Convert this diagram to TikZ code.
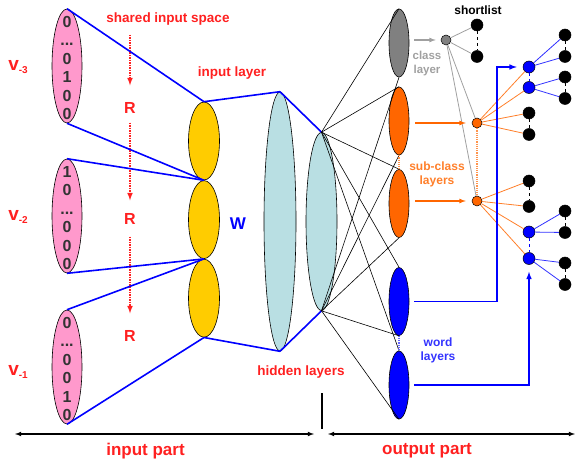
\documentclass[tikz,border=0pt]{standalone}
\usepackage{fontspec}
\setmainfont{Liberation Sans}
\usetikzlibrary{shapes.geometric, positioning}

\definecolor{vecpink}{HTML}{FF99CC}
\definecolor{projyellow}{HTML}{FFCC00}
\definecolor{hidblue}{HTML}{B9DFE3}
\definecolor{classgrey}{HTML}{808080}
\definecolor{classtext}{HTML}{A0A0A0}
\definecolor{suborange}{HTML}{FF6600}
\definecolor{subtext}{HTML}{FF7F2A}
\definecolor{wordblue}{HTML}{0000FF}
\definecolor{wordtext}{HTML}{3333FF}
\definecolor{labred}{HTML}{FF2020}
\definecolor{bitgrey}{HTML}{333333}

\tikzset{
  inputvec/.style={ellipse, draw=black, line width=0.6pt, fill=vecpink, minimum width=30pt, minimum height=114pt, inner sep=0pt},
  projlayer/.style={ellipse, draw=black, line width=0.6pt, fill=projyellow, minimum width=31pt, minimum height=78pt, inner sep=0pt},
  hidlayer/.style={ellipse, draw=black, line width=0.6pt, fill=hidblue, inner sep=0pt},
  outlayer/.style={ellipse, draw=black, line width=0.6pt, minimum width=20pt, minimum height=68pt, inner sep=0pt},
  tree/.style={circle, draw=black, line width=0.5pt, inner sep=0pt, minimum size=12pt},
  leaf/.style={tree, fill=black},
  bits/.style={font=\bfseries\fontsize{16}{18.4}\selectfont, text=bitgrey, align=center},
  lbl/.style={font=\bfseries\fontsize{13.5}{16}\selectfont, text=labred, align=center, inner sep=0pt},
  small/.style={font=\bfseries\fontsize{12}{14}\selectfont, align=center, inner sep=0pt},
  partlbl/.style={font=\bfseries\fontsize{17}{20}\selectfont, text=labred, inner sep=0pt},
  proj/.style={draw=wordblue, line width=1.6pt},
  conn/.style={draw=black, line width=0.6pt},
  rarrow/.style={draw=labred, densely dotted, line width=1.5pt, -latex},
  axis/.style={draw=black, line width=1.1pt, latex-latex},
}

\newcommand{\vlabel}[1]{{\fontsize{19}{19}\selectfont v}\raisebox{-3pt}{\fontsize{10}{10}\selectfont #1}}

\begin{document}
\begin{tikzpicture}[x=1pt, y=-1pt]
\useasboundingbox (0,0) rectangle (575,462);

% input vectors
\node[inputvec] (p3) at (67,66) {};
\node[inputvec] (p2) at (67,216) {};
\node[inputvec] (p1) at (67,367) {};
\node[bits] (d3) [yshift=-2pt] at (p3) {0\\...\\0\\1\\0\\0};
\node[bits] (d2) [yshift=-2pt] at (p2) {1\\0\\...\\0\\0\\0};
\node[bits] (d1) [yshift=-2pt] at (p1) {0\\...\\0\\0\\1\\0};

\node[lbl] (v3) at (18,67) {\vlabel{-3}};
\node[lbl] (v2) at (18,217) {\vlabel{-2}};
\node[lbl] (v1) at (18,372) {\vlabel{-1}};

% shared projection
\node[lbl] (shared) at (168,19) {shared input space};
\node[lbl, font=\bfseries\fontsize{16}{16}\selectfont] (r1) at (130,108) {R};
\node[lbl, font=\bfseries\fontsize{16}{16}\selectfont] (r2) at (130,219) {R};
\node[lbl, font=\bfseries\fontsize{16}{16}\selectfont] (r3) at (130,336) {R};
\coordinate (rtop) at (130,35);
\draw[rarrow, shorten >=17pt] (rtop) -- (r1);
\draw[rarrow, shorten <=9pt, shorten >=13pt] (r1.south) -- (r2.north);
\draw[rarrow, shorten <=12pt, shorten >=17pt] (r2.south) -- (r3.north);

% input layer
\node[projlayer] (y1) at (204,141) {};
\node[projlayer] (y2) [below=0pt of y1] {};
\node[projlayer] (y3) [below=0pt of y2] {};
\node[lbl] (inlbl) at (232,73) {input layer};
\node[lbl, text=wordblue, font=\bfseries\fontsize{17}{17}\selectfont] (w) at (238,224) {W};

\draw[proj] (p3.north) -- (y1.north);
\draw[proj] (p3.south) -- (y1.south);
\draw[proj] (p2.north) -- (y1.south);
\draw[proj] (p2.south) -- (y3.north);
\draw[proj] (p1.north) -- (y3.north);
\draw[proj] (p1.south) -- (y3.south);

% hidden layers
\node[hidlayer, minimum width=32pt, minimum height=259pt] (h1) at (280,221.5) {};
\node[hidlayer, minimum width=31pt, minimum height=178pt] (h2) at (321.5,221.5) {};
\node[lbl] (hidlbl) at (301,372) {hidden layers};

\draw[proj] (y1.north) -- (h1.north);
\draw[proj] (y3.south) -- (h1.south);
\draw[proj] (h1.north) -- (h2.north);
\draw[proj] (h1.south) -- (h2.south);

% output layers
\node[outlayer, fill=classgrey] (oc) at (399,43) {};
\node[outlayer, fill=suborange] (os1) at (399,121) {};
\node[outlayer, fill=suborange] (os2) at (399,203.5) {};
\node[outlayer, fill=wordblue] (ow1) at (399,301.5) {};
\node[outlayer, fill=wordblue] (ow2) at (399,385) {};

\foreach \o in {oc,os1,os2,ow1,ow2} {
  \draw[conn] (h2.north) -- (\o.north);
  \draw[conn] (h2.south) -- (\o.south);
}
\draw[suborange!70, densely dotted, line width=1.2pt] (os1.south) -- (os2.north);
\draw[wordblue!60, densely dotted, line width=1.2pt] (ow1.south) -- (ow2.north);

\node[small, text=classtext, font=\bfseries\fontsize{11.5}{14}\selectfont] (clbl) at (427,64) {class\\layer};
\node[small, text=subtext] (slbl) at (437,174) {sub-class\\layers};
\node[small, text=wordtext] (wlbl) at (438,350) {word\\layers};
\node[small] (short) at (478,10) {shortlist};

% tree
\node[tree, fill=classgrey, minimum size=10pt] (g) at (446,40) {};
\node[leaf] (s1) at (477,25) {};
\node[leaf] (s2) [below=19pt of s1] {};
\node[tree, fill=suborange, minimum size=10pt] (c1) at (477,123) {};
\node[tree, fill=suborange, minimum size=10pt] (c2) at (477,201) {};

\node[tree, fill=wordblue] (b1) at (529,67) {};
\node[tree, fill=wordblue] (b2) [below=8pt of b1] {};
\node[leaf] (k1) at (529,113) {};
\node[leaf] (k2) [below=9pt of k1] {};
\node[leaf] (k3) at (529,181) {};
\node[leaf] (k4) [below=13pt of k3] {};
\node[tree, fill=wordblue] (b3) at (529,232) {};
\node[tree, fill=wordblue] (b4) [below=14pt of b3] {};

\node[leaf] (l1) at (565,35) {};
\node[leaf] (l2) [below=9pt of l1] {};
\node[leaf] (l3) at (565,77) {};
\node[leaf] (l4) [below=9pt of l3] {};
\node[leaf] (l5) at (565,211) {};
\node[leaf] (l6) [below=9pt of l5] {};
\node[leaf] (l7) at (565,263) {};
\node[leaf] (l8) [below=9pt of l7] {};

\draw[classtext, line width=0.8pt] (g) -- (s1);
\draw[classtext, line width=0.8pt] (g) -- (s2);
\draw[classtext, line width=0.8pt] (g) -- (c1);
\draw[classtext, line width=0.8pt] (g) -- (c2);
\draw[suborange!70, densely dotted, line width=1.2pt] (c1) -- (c2);
\foreach \t in {b1,b2,k1,k2} \draw[subtext, line width=0.8pt] (c1) -- (\t);
\foreach \t in {k3,k4,b3,b4} \draw[subtext, line width=0.8pt] (c2) -- (\t);
\draw[wordtext, line width=0.8pt] (b1) -- (l1);
\draw[wordtext, line width=0.8pt] (b1) -- (l2);
\draw[wordtext, line width=0.8pt] (b2) -- (l3);
\draw[wordtext, line width=0.8pt] (b2) -- (l4);
\draw[wordtext, line width=0.8pt] (b3) -- (l5);
\draw[wordtext, line width=0.8pt] (b3) -- (l6);
\draw[wordtext, line width=0.8pt] (b4) -- (l7);
\draw[wordtext, line width=0.8pt] (b4) -- (l8);
\foreach \a/\b in {s1/s2,k1/k2,k3/k4,l1/l2,l3/l4,l5/l6,l7/l8}
  \draw[black, dashed, line width=0.9pt] (\a) -- (\b);
\draw[wordblue, dashed, line width=0.9pt] (b1) -- (b2);
\draw[wordblue, dashed, line width=0.9pt] (b3) -- (b4);

% arrows into the tree
\draw[classtext, line width=1.2pt, -latex, shorten <=5pt, shorten >=5pt] (oc.east |- g) -- (g.west);
\draw[suborange, line width=1.2pt, -latex, shorten <=6pt, shorten >=6pt] (os1.east |- c1) -- (c1.west);
\draw[suborange, line width=1.2pt, -latex, shorten <=6pt, shorten >=6pt] (os2.east |- c2) -- (c2.west);
\coordinate (bup) at (497,200);
\draw[wordblue, line width=1.5pt, -latex, shorten <=5pt, shorten >=6pt] (ow1.east) -| (bup) |- (b1.west);
\draw[wordblue, line width=1.5pt, -latex, shorten <=5pt, shorten >=7pt] (ow2.east) -| (b4.south);

% parts
\coordinate (inL) at (15,434);
\coordinate (inR) at (314,434);
\coordinate (outL) at (328,434);
\coordinate (outR) at (575,434);
\coordinate (tickT) at (322,393);
\coordinate (tickB) at (322,429);
\draw[axis] (inL) -- (inR);
\draw[axis] (outL) -- (outR);
\draw[black, line width=1.5pt] (tickT) -- (tickB);
\node[partlbl] (inpart) at (145.5,451) {input part};
\node[partlbl] (outpart) at (427,451) {output part};
\end{tikzpicture}
\end{document}
